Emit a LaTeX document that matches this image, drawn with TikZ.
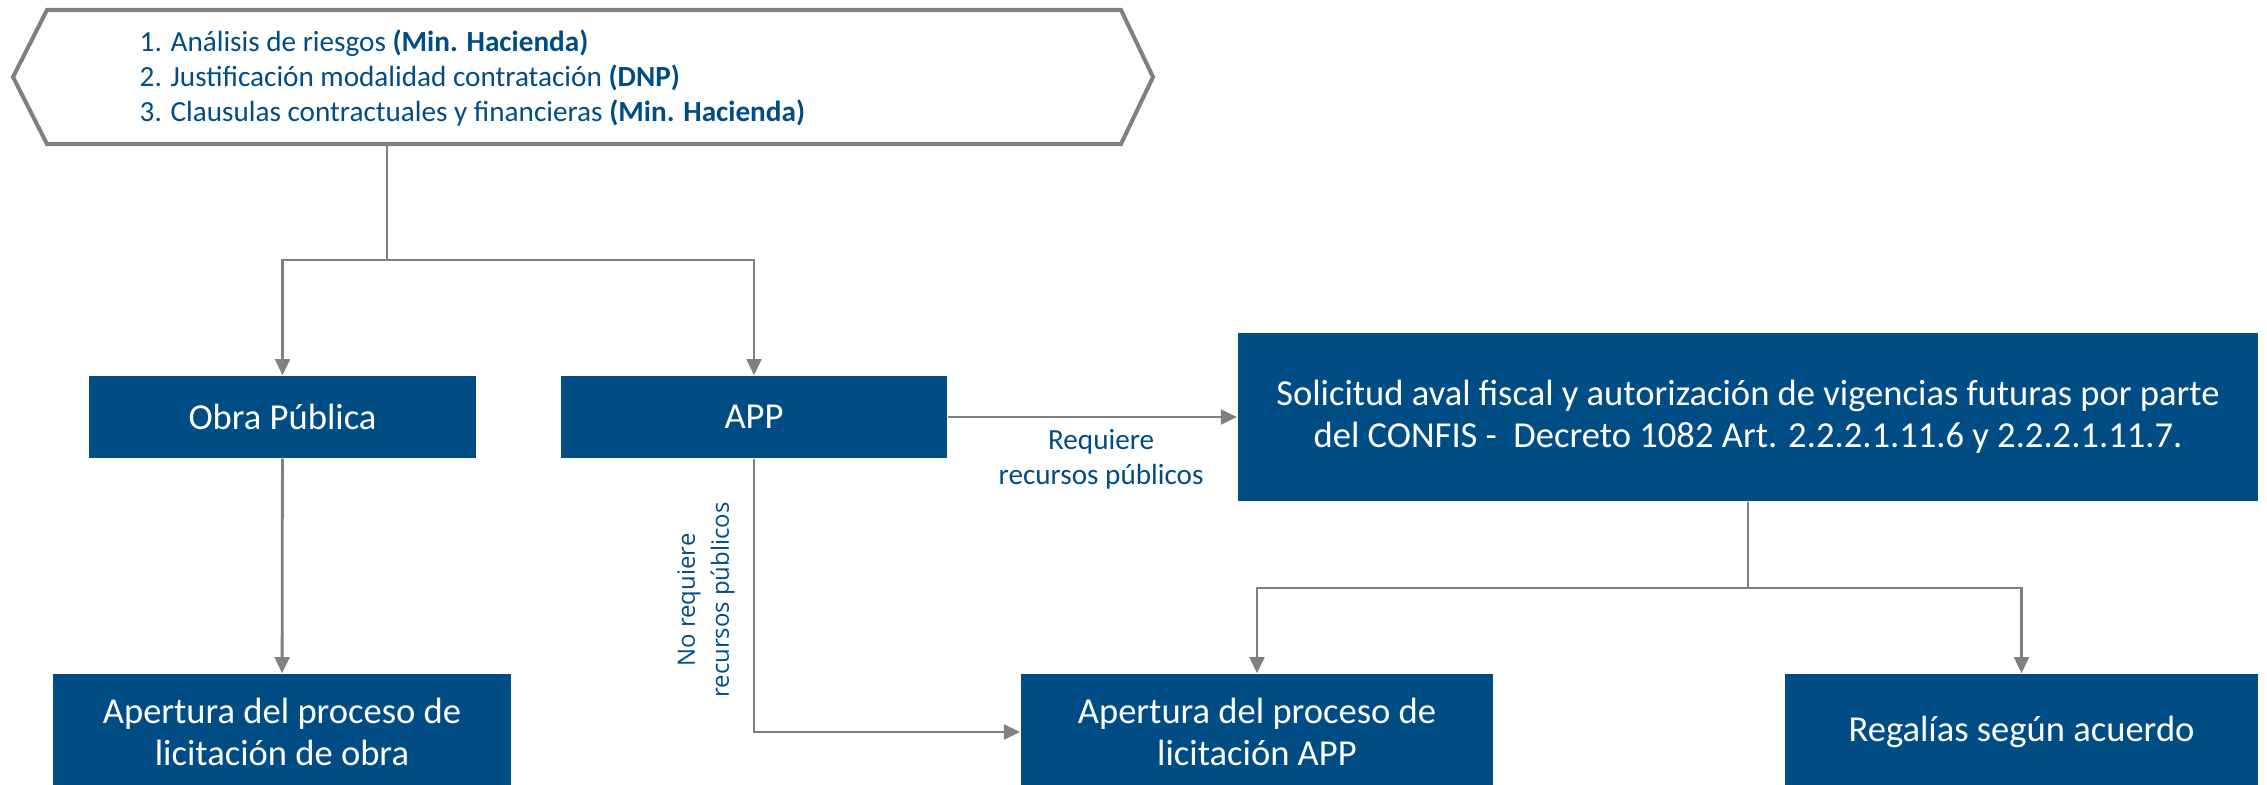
\documentclass[tikz,border=0pt]{standalone}
\usepackage{fontspec}
\setmainfont{Carlito}
\newfontfamily\labelfont{Open Sans}
\usetikzlibrary{arrows.meta}
\definecolor{boxblue}{RGB}{0,76,133}
\definecolor{linegray}{RGB}{128,128,128}

\begin{document}
\begin{tikzpicture}[x=0.01cm,y=-0.01cm,
        bluebox/.style={fill=boxblue,text=white,align=center,inner sep=0pt,
            font=\fontsize{10.4}{12}\selectfont},
        link/.style={draw=linegray,line width=0.8pt},
        arr/.style={link,-{Triangle[length=4.6pt,width=4.2pt]}},
        bluetext/.style={text=boxblue,align=center,inner sep=0pt}
    ]
    \clip (0,0) rectangle (2267,784);
    % hexagon with the three steps
    \draw[linegray,line width=1.15pt] (47,10) -- (1121,10) -- (1153,77)
        -- (1121,144) -- (47,144) -- (13,77) -- cycle;
    \node[bluetext,align=left,anchor=west,font=\fontsize{8.3}{9.95}\selectfont]
        (steps) at (139,78) {1. Análisis de riesgos \textbf{(Min. Hacienda)}\\
        2. Justificación modalidad contratación \textbf{(DNP)}\\
        3. Clausulas contractuales y financieras \textbf{(Min. Hacienda)}};
    \coordinate (hexbot) at (387,144);
    \coordinate (split) at (387,260);

    % boxes
    \node[bluebox,minimum width=3.87cm,minimum height=0.82cm] (obra) at (282.5,417) {Obra Pública};
    \node[bluebox,minimum width=3.86cm,minimum height=0.82cm] (app) at (754,417) {APP};
    \node[bluebox,minimum width=10.2cm,minimum height=1.68cm] (solicitud) at (1748,417)
        {Solicitud aval fiscal y autorización de vigencias futuras por parte\\
        del CONFIS -\ \ Decreto 1082 Art. 2.2.2.1.11.6 y 2.2.2.1.11.7.};
    \node[bluebox,minimum width=4.58cm,minimum height=1.16cm] (aperobra) at (282,732)
        {Apertura del proceso de\\licitación de obra};
    \node[bluebox,minimum width=4.72cm,minimum height=1.16cm] (aperapp) at (1257,732)
        {Apertura del proceso de\\licitación APP};
    \node[bluebox,minimum width=4.73cm,minimum height=1.16cm] (regalias) at (2021.5,732)
        {Regalías según acuerdo};
    \coordinate (solsplit) at (1748,588);

    % connectors
    \draw[link] (hexbot) -- (split);
    \draw[arr] (split) -| (obra.north);
    \draw[arr] (split) -| (app.north);
    \draw[arr] (app) -- (solicitud)
        node[pos=0.53,below=3pt,bluetext,font=\fontsize{8.3}{9.95}\selectfont]
        {Requiere\\recursos públicos};
    \draw[arr] (obra) -- (aperobra);
    \draw[arr] (app.south) |- (aperapp.west);
    \node[bluetext,rotate=90,font=\labelfont\fontsize{6.8}{9.7}\selectfont]
        (norequiere) at (706,600) {No requiere\\recursos públicos};
    \draw[link] (solicitud.south) -- (solsplit);
    \draw[arr] (solsplit) -| (aperapp.north);
    \draw[arr] (solsplit) -| (regalias.north);
\end{tikzpicture}
\end{document}
